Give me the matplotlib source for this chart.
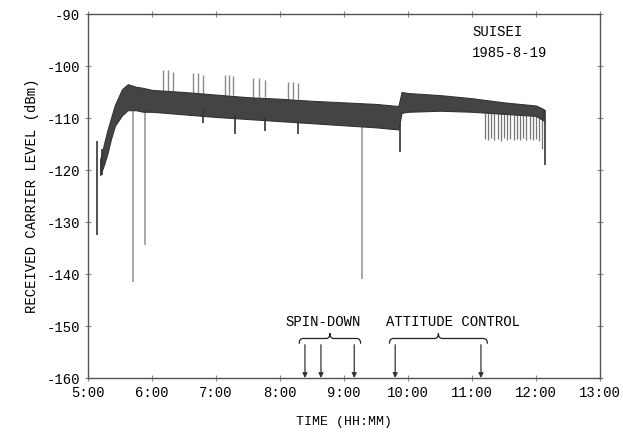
import matplotlib.pyplot as plt
import numpy as np
from matplotlib.path import Path
from matplotlib.patches import PathPatch

plt.rcParams['font.family'] = ['Liberation Mono', 'DejaVu Sans Mono']
plt.rcParams['axes.unicode_minus'] = False

# envelope of the received carrier level band (hours, dBm)
t_env = [5.19, 5.25, 5.30, 5.36, 5.42, 5.53, 5.62, 5.75, 5.86, 6.0, 6.5, 7.0, 7.5,
         8.0, 8.5, 9.0, 9.5, 9.85, 9.9, 10.0, 10.5, 11.0, 11.5, 12.0, 12.12]
top_env = [-118, -115, -112.5, -110, -107.5, -104.5, -103.5, -104, -104.2, -104.6,
           -105, -105.5, -106, -106.3, -106.7, -107, -107.3, -107.7, -105, -105.2,
           -105.6, -106.2, -107, -107.6, -108.3]
bot_env = [-121, -119, -117, -114, -111.5, -109.5, -108.5, -108.5, -108.8, -108.8,
           -109.3, -109.8, -110.2, -110.6, -111, -111.4, -111.8, -112.2, -109, -108.8,
           -108.6, -108.8, -109.2, -109.6, -110.5]

# dark downward dips (time, top, bottom)
dip_t = [5.14, 5.22, 6.80, 7.30, 7.77, 8.28, 9.87, 12.14]
dip_top = [-114.5, -116, -108.5, -109.5, -110, -110.5, -111, -108.5]
dip_bot = [-132.5, -121, -111, -113, -112.5, -113, -116.5, -119]

# long light dropouts
drop_t = [5.70, 5.89, 9.28]
drop_top = [-108.5, -108.5, -111.5]
drop_bot = [-141.5, -134.4, -141]

# upward bursts during spin-down manoeuvres
burst_t = [6.17, 6.25, 6.33, 6.64, 6.72, 6.80, 7.14, 7.20, 7.27,
           7.58, 7.67, 7.77, 8.13, 8.20, 8.28]
burst_base = [-105, -105, -105, -105.3, -105.3, -105.3, -105.6, -105.6, -105.6,
              -106, -106, -106, -106.3, -106.3, -106.3]
burst_top = [-100.8, -100.8, -101.2, -101.4, -101.4, -101.8, -101.7, -101.7, -102,
             -102.3, -102.3, -102.6, -103, -103, -103.2]

# comb of dips late in the pass
comb_t = [11.20, 11.25, 11.30, 11.35, 11.40, 11.45, 11.50, 11.55, 11.60, 11.65,
          11.70, 11.75, 11.80, 11.85, 11.90, 11.95, 12.00, 12.05, 12.10]
comb_bot = [-114, -114.3, -113.8, -114.2, -114, -114.4, -113.9, -114.2, -114, -114.3,
            -114, -114.2, -113.8, -114.3, -114, -114.2, -114.1, -114.4, -116]

spin_down = [8.39, 8.64, 9.16]
attitude = [9.80, 11.14]

xticks = [5, 6, 7, 8, 9, 10, 11, 12, 13]
xlabels = ['5:00', '6:00', '7:00', '8:00', '9:00', '10:00', '11:00', '12:00', '13:00']
yticks = [-160, -150, -140, -130, -120, -110, -100, -90]

fig = plt.figure(figsize=(6.23, 4.32), dpi=100)
ax = fig.add_axes([88 / 623, 54 / 432, 512 / 623, 364 / 432])

ax.vlines(drop_t, drop_bot, drop_top, color='#a0a0a0', lw=1.3, zorder=1)
ax.vlines(comb_t, comb_bot, -109, color='#777777', lw=0.9, zorder=1)
ax.vlines(burst_t, burst_base, burst_top, color='#8a8a8a', lw=1.0, zorder=1)
ax.fill_between(t_env, bot_env, top_env, facecolor='#444444', edgecolor='#333333',
                lw=0.8, zorder=2)
ax.vlines(dip_t, dip_bot, dip_top, color='#333333', lw=1.2, zorder=3)


def brace(x1, x2, y):
    xm = (x1 + x2) / 2
    d = 0.06
    verts = [(x1, y - 1.0), (x1, y), (x1 + d, y),
             (xm - d, y), (xm, y), (xm, y + 1.0),
             (xm, y), (xm + d, y),
             (x2 - d, y), (x2, y), (x2, y - 1.0)]
    codes = [Path.MOVETO, Path.CURVE3, Path.CURVE3,
             Path.LINETO, Path.CURVE3, Path.CURVE3,
             Path.CURVE3, Path.CURVE3,
             Path.LINETO, Path.CURVE3, Path.CURVE3]
    ax.add_patch(PathPatch(Path(verts, codes), fill=False, lw=0.9, color='#222222'))


for grp, label, lx in [(spin_down, 'SPIN-DOWN', 8.68), (attitude, 'ATTITUDE CONTROL', 10.70)]:
    x1, x2 = min(grp) - 0.09, max(grp) + 0.10
    brace(x1, x2, -152.4)
    ax.text(lx, -149.3, label, ha='center', va='center', fontsize=10)
    for t in grp:
        ax.annotate('', xy=(t, -160), xytext=(t, -153.6),
                    arrowprops=dict(arrowstyle='-|>', color='#333333', lw=0.9,
                                    mutation_scale=7, shrinkA=0, shrinkB=0))

ax.text(11.0, -93.4, 'SUISEI', ha='left', va='center', fontsize=10)
ax.text(11.0, -97.5, '1985-8-19', ha='left', va='center', fontsize=10)

ax.set_xlim(5, 13)
ax.set_ylim(-160, -90)
ax.set_xticks(xticks)
ax.set_xticklabels(xlabels)
ax.set_yticks(yticks)
ax.tick_params(labelsize=10, direction='inout', length=4, width=0.8, color='#888888',
               top=True, right=True)
for s in ax.spines.values():
    s.set_color('#555555')
    s.set_linewidth(1.0)
ax.set_xlabel('TIME (HH:MM)', fontsize=9.5, labelpad=12)
ax.set_ylabel('RECEIVED CARRIER LEVEL (dBm)', fontsize=10, labelpad=6)

fig.savefig('out.png', dpi=100)
